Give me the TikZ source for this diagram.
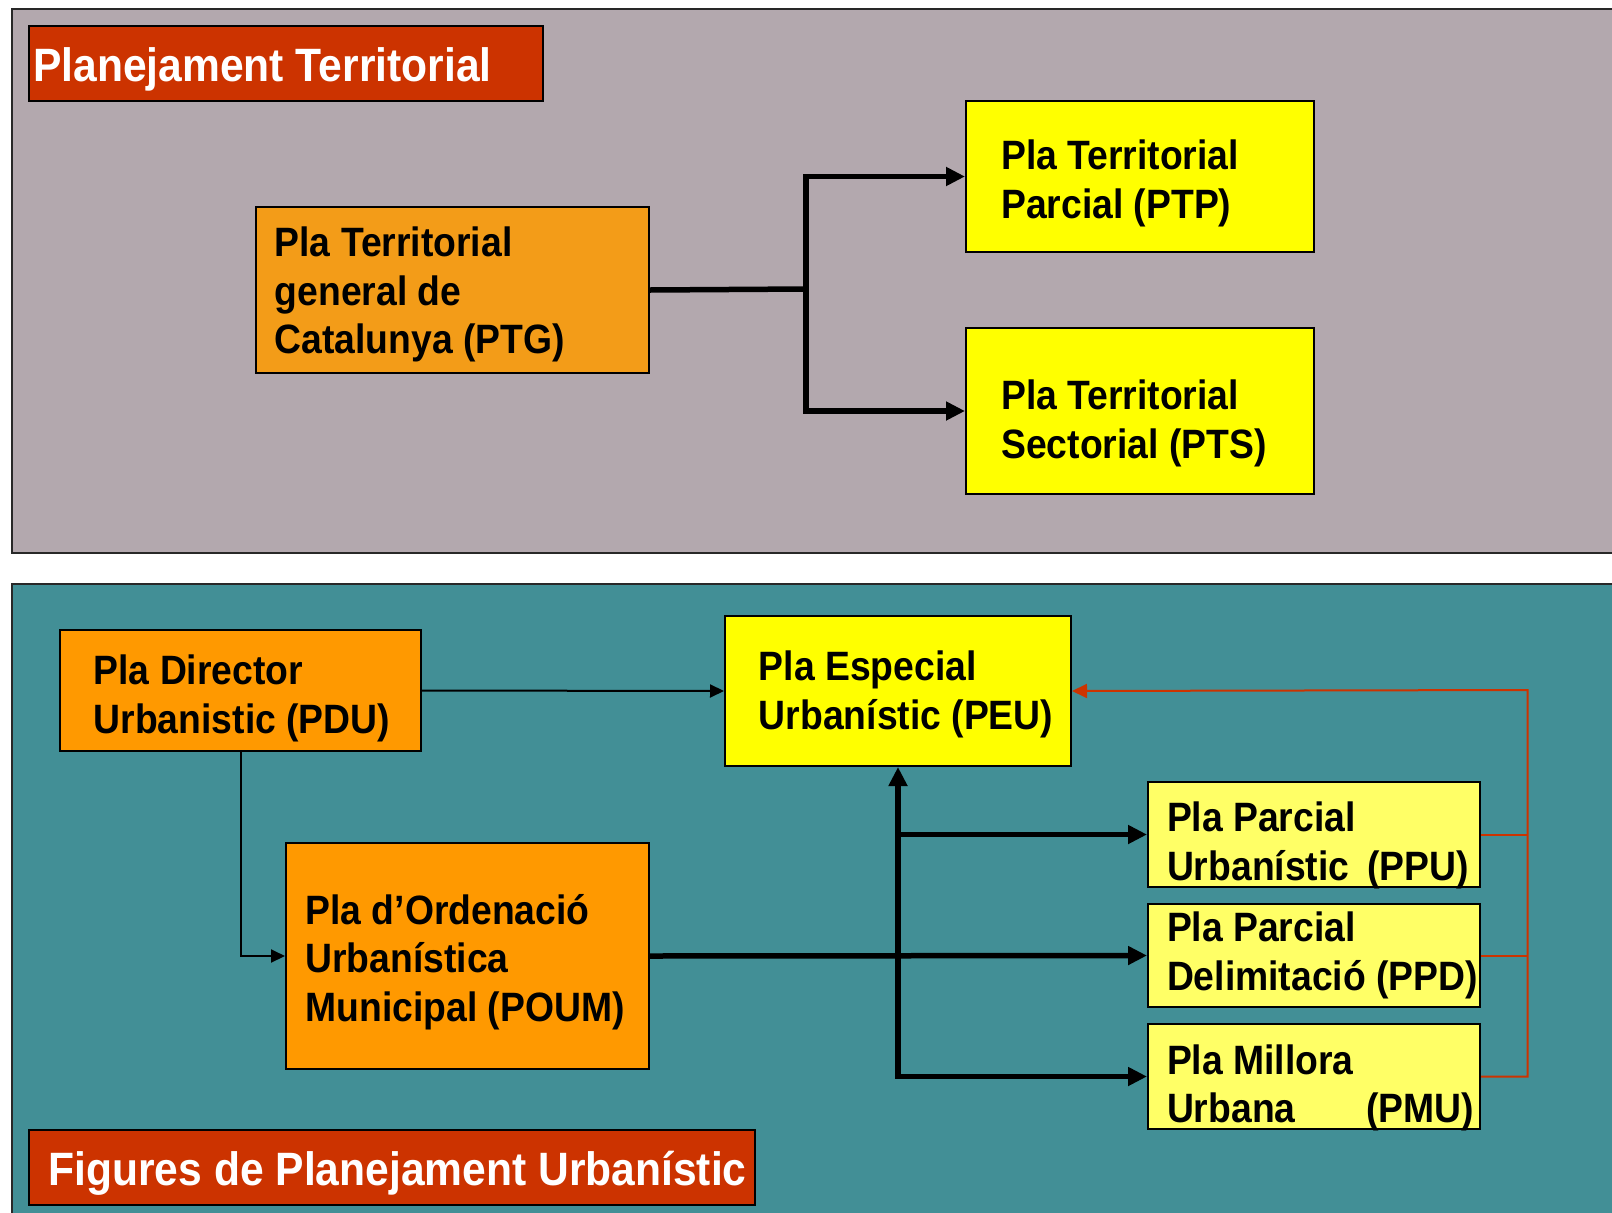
\documentclass[tikz,border=0pt]{standalone}
\usepackage{fontspec}
\setmainfont{Liberation Sans}[FakeStretch=0.91]
\usetikzlibrary{arrows.meta,calc}
\definecolor{mauve}{RGB}{179,168,174}
\definecolor{tealbg}{RGB}{66,143,150}
\definecolor{brick}{RGB}{204,51,0}
\definecolor{orA}{RGB}{243,156,24}
\definecolor{orB}{RGB}{255,153,0}
\definecolor{yel}{RGB}{255,255,0}
\definecolor{lyel}{RGB}{255,255,102}
\definecolor{panelline}{RGB}{40,40,40}
\begin{document}
\begin{tikzpicture}[x=1pt,y=-1pt,
  box/.style={draw=black,line width=2pt,inner sep=0pt,anchor=north west},
  txt/.style={anchor=north west,inner sep=0pt,align=left,font=\fontsize{41}{48.5}\selectfont\bfseries},
  ttl/.style={anchor=base west,inner sep=0pt,text=white,font=\fontsize{46.8}{56}\selectfont\bfseries},
  thickconn/.style={line width=5.5pt,-{Triangle[length=19pt,width=18pt]}},
  thickline/.style={line width=5.5pt},
  thinconn/.style={line width=2pt,-{Triangle[length=14pt,width=13pt]}},
  redconn/.style={draw=brick,line width=2pt},
  panel/.style={draw=panelline,line width=2pt}
]
\useasboundingbox (0,0) rectangle (1612,1213);
\clip (0,0) rectangle (1612,1213);
\fill[white] (0,0) rectangle (1612,1213);

% panels
\draw[panel,fill=mauve] (12,9) rectangle (1650,553);
\draw[panel,fill=tealbg] (12,584) rectangle (1650,1240);

% top panel
\node[box,fill=brick,minimum width=514pt,minimum height=75pt] (t1) at (28,25) {};
\node[ttl] (t1txt) at (33,81) {Planejament Territorial};

\node[box,fill=orA,minimum width=393pt,minimum height=166pt] (ptg) at (255,206) {};
\node[txt] (ptgtxt) at (274.5,227) {Pla Territorial\\general de\\Catalunya (PTG)};

\node[box,fill=yel,minimum width=348pt,minimum height=151pt] (ptp) at (965,100) {};
\node[txt] (ptptxt) at (1001,140) {Pla Territorial\\Parcial (PTP)};

\node[box,fill=yel,minimum width=348pt,minimum height=166pt] (pts) at (965,327) {};
\node[txt] (ptstxt) at (1001,380) {Pla Territorial\\Sectorial (PTS)};

\coordinate (j) at (806,289);
\draw[thickline] (ptg.east) -- (j);
\draw[thickconn] (j) |- (ptp.west);
\draw[thickconn] (j) |- (pts.west);

% bottom panel
\node[box,fill=orB,minimum width=361pt,minimum height=121pt] (pdu) at (59,629) {};
\node[txt] (pdutxt) at (93.5,655) {Pla Director\\Urbanistic (PDU)};

\node[box,fill=yel,minimum width=346pt,minimum height=150pt] (peu) at (724,615) {};
\node[txt] (peutxt) at (758.7,651) {Pla Especial\\Urbanístic (PEU)};

\node[box,fill=orB,minimum width=363pt,minimum height=226pt] (poum) at (285,842) {};
\node[txt] (poumtxt) at (305.3,894) {Pla d’Ordenació\\Urbanística\\Municipal (POUM)};

\node[box,fill=lyel,minimum width=332pt,minimum height=105pt] (ppu) at (1147,781) {};
\node[txt] (pputxt) at (1166.8,802) {Pla Parcial\\\makebox[302pt][l]{Urbanístic\hfill(PPU)}};

\node[box,fill=lyel,minimum width=332pt,minimum height=103pt] (ppd) at (1147,903) {};
\node[txt] (ppdtxt) at (1166.8,912) {Pla Parcial\\Delimitació (PPD)};

\node[box,fill=lyel,minimum width=332pt,minimum height=105pt] (pmu) at (1147,1023) {};
\node[txt] (pmutxt) at (1166.8,1044.5) {Pla Millora\\\makebox[307pt][l]{Urbana\hfill(PMU)}};

\node[box,fill=brick,minimum width=726pt,minimum height=75pt] (t2) at (28,1129) {};
\node[ttl] (t2txt) at (48.3,1185) {Figures de Planejament Urbanístic};

% thin connectors
\draw[thinconn] (pdu.east) -- (peu.west);
\draw[thinconn] (pdu.south) |- (poum.west);

% thick connectors
\draw[thickconn] (poum.east) -- (ppd.west);
\draw[line width=5.5pt,{Triangle[length=19pt,width=18pt]}-{Triangle[length=19pt,width=18pt]}] (peu.south) |- (pmu.west);
\draw[thickconn] (peu.south |- ppu.west) -- (ppu.west);

% red connectors
\coordinate (rtop) at (1527.6,690);
\draw[redconn,-{Triangle[length=15pt,width=14pt]}] (pmu.east) -| (rtop) -- (peu.east);
\draw[redconn] (ppu.east) -- (ppu.east -| rtop);
\draw[redconn] (ppd.east) -- (ppd.east -| rtop);
\end{tikzpicture}
\end{document}
